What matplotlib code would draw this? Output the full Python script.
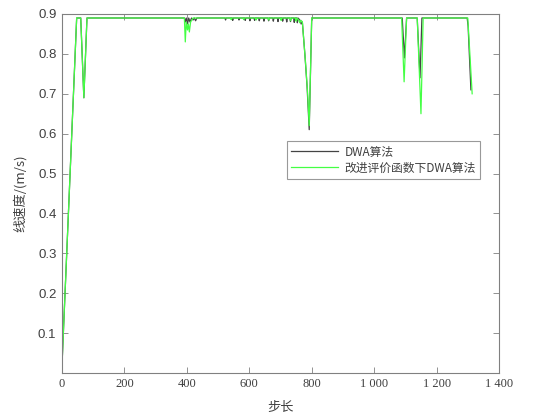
import matplotlib
matplotlib.use('Agg')
import matplotlib.pyplot as plt
from matplotlib.ticker import FuncFormatter

plt.rcParams['font.family'] = ['Noto Sans CJK SC', 'DejaVu Sans']

# DWA (black) breakpoints
dwa_x = [0, 47, 60, 70, 80, 392, 395, 398, 402, 406, 410, 415, 420, 424, 428, 432,
         522, 524, 526, 545, 547, 549, 565, 567, 569, 585, 587, 589, 600, 602, 604,
         615, 617, 619, 630, 632, 634, 645, 647, 649, 660, 662, 664, 675, 677, 679,
         690, 692, 694, 705, 707, 709, 718, 720, 722, 730, 732, 734, 742, 744, 746,
         752, 754, 756, 762, 766, 770, 778, 785, 792, 800,
         1090, 1097, 1104, 1138, 1147, 1153, 1298, 1301, 1310]
dwa_y = [0.02, 0.89, 0.89, 0.69, 0.89, 0.89, 0.88, 0.89, 0.875, 0.89, 0.88, 0.89, 0.885, 0.89, 0.883, 0.89,
         0.89, 0.885, 0.89, 0.89, 0.884, 0.89, 0.89, 0.885, 0.89, 0.89, 0.884, 0.89, 0.89, 0.883, 0.89,
         0.89, 0.884, 0.89, 0.89, 0.883, 0.89, 0.89, 0.882, 0.89, 0.89, 0.883, 0.89, 0.89, 0.882, 0.89,
         0.89, 0.881, 0.89, 0.89, 0.882, 0.89, 0.89, 0.88, 0.89, 0.89, 0.881, 0.89, 0.89, 0.879, 0.89,
         0.89, 0.878, 0.89, 0.885, 0.875, 0.88, 0.80, 0.72, 0.61, 0.89,
         0.89, 0.79, 0.89, 0.89, 0.74, 0.89, 0.89, 0.87, 0.71]

# improved evaluation function (green) breakpoints
imp_x = [0, 47, 60, 70, 80, 392, 395, 398, 402, 405, 408, 412, 416, 420, 424,
         540, 542, 544, 580, 582, 584, 620, 622, 624, 660, 662, 664, 700, 702, 704,
         730, 732, 734, 748, 750, 752, 758, 762, 766, 770, 780, 787, 792, 800,
         1088, 1096, 1104, 1138, 1150, 1157, 1300, 1314]
imp_y = [0.02, 0.89, 0.89, 0.69, 0.89, 0.89, 0.83, 0.88, 0.86, 0.875, 0.855, 0.88, 0.885, 0.89, 0.89,
         0.89, 0.886, 0.89, 0.89, 0.886, 0.89, 0.89, 0.885, 0.89, 0.89, 0.885, 0.89, 0.89, 0.884, 0.89,
         0.89, 0.883, 0.89, 0.89, 0.882, 0.89, 0.885, 0.878, 0.884, 0.88, 0.78, 0.70, 0.62, 0.89,
         0.89, 0.73, 0.89, 0.89, 0.65, 0.89, 0.89, 0.70]

xticks = [0, 200, 400, 600, 800, 1000, 1200, 1400]
yticks = [0.1, 0.2, 0.3, 0.4, 0.5, 0.6, 0.7, 0.8, 0.9]

fig = plt.figure(figsize=(5.42, 4.16), dpi=100)
ax = fig.add_axes([62 / 542, 1 - 373 / 416, 437 / 542, 359 / 416])

ax.plot(dwa_x, dwa_y, color='#444444', lw=0.9, label='DWA算法')
ax.plot(imp_x, imp_y, color='#44ff44', lw=0.9, label='改进评价函数下DWA算法')

ax.set_xlim(0, 1400)
ax.set_ylim(0, 0.9)
ax.set_xticks(xticks)
ax.set_yticks(yticks)
ax.xaxis.set_major_formatter(FuncFormatter(lambda v, p: f'{int(v):,}'.replace(',', ' ')))
ax.yaxis.set_major_formatter(FuncFormatter(lambda v, p: f'{v:.1f}'))

ax.tick_params(direction='in', top=True, right=True, length=4, width=0.6,
               colors='#808080', labelcolor='#404040', labelsize=9)
ax.tick_params(axis='y', labelsize=9.5, pad=4)
for lab in ax.get_xticklabels():
    lab.set_family(['Liberation Serif', 'DejaVu Serif'])
for lab in ax.get_yticklabels():
    lab.set_family(['Liberation Sans', 'DejaVu Sans'])
for s in ax.spines.values():
    s.set_color('#808080')
    s.set_linewidth(0.8)

ax.set_xlabel('步长', fontsize=9.5, color='#404040', labelpad=8)
ax.set_ylabel('线速度/(m/s)', fontsize=9.5, color='#404040', labelpad=8)

leg = ax.legend(loc='upper left', bbox_to_anchor=(0.515, 0.645), fontsize=8.5,
                frameon=True, fancybox=False, handlelength=4, borderpad=0.35,
                labelspacing=0.25, handletextpad=0.5, borderaxespad=0)
leg.get_frame().set_edgecolor('#808080')
leg.get_frame().set_linewidth(0.8)
for t in leg.get_texts():
    t.set_color('#404040')

fig.savefig('out.png', dpi=100)
